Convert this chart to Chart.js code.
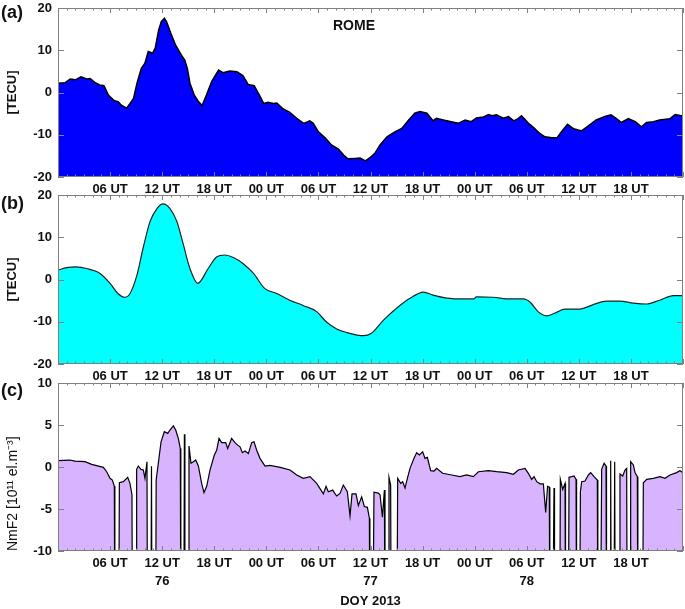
<!DOCTYPE html>
<html>
<head>
<meta charset="utf-8">
<script src="https://cdn.jsdelivr.net/npm/chart.js@4.4.1/dist/chart.umd.min.js"></script>
<style>
  body { margin: 0; background: #fff; }
  #wrap { position: relative; width: 685px; height: 609px; font-family: 'Liberation Sans', Arial, sans-serif; }
  canvas { position: absolute; left: 0; }
  .tag { position: absolute; font-weight: bold; font-size: 18px; line-height: 20px; color: #111; }
  .station { position: absolute; font-weight: bold; font-size: 14px; line-height: 16px; color: #111; }
</style>
</head>
<body>
<div id="wrap">
  <canvas id="chartA" width="685" height="200" style="top:0"></canvas>
  <canvas id="chartB" width="685" height="200" style="top:187px"></canvas>
  <canvas id="chartC" width="685" height="234" style="top:375px"></canvas>
  <div class="tag" style="left:1px;top:2px">(a)</div>
  <div class="tag" style="left:1px;top:193px">(b)</div>
  <div class="tag" style="left:1px;top:380px">(c)</div>
  <div class="station" style="left:333px;top:17px">ROME</div>
</div>
<script>
// hours since DOY 76 00 UT
const utHours = [6, 12, 18, 24, 30, 36, 42, 48, 54, 60, 66];
const utLabels = ['06 UT', '12 UT', '18 UT', '00 UT', '06 UT', '12 UT', '18 UT', '00 UT', '06 UT', '12 UT', '18 UT'];
const dayHours = [12, 36, 54];
const dayLabels = ['76', '77', '78'];

// (a) observed TEC
const aHours = [0, 0.8, 1.4, 2.0, 2.65, 3.3, 3.7, 4.3, 4.8, 5.3, 5.8, 6.4, 6.95, 7.3, 7.9, 8.3, 8.7, 9.1, 9.6, 10.0,
  10.4, 10.9, 11.2, 11.6, 11.9, 12.25, 12.5, 13.0, 13.55, 14.2, 14.6, 14.9, 15.2, 15.7, 16.2, 16.6, 17.1, 17.7, 18.5, 19.0,
  19.8, 20.6, 21.3, 21.9, 22.6, 23.2, 23.7, 24.2, 24.8, 25.2, 25.95, 26.7, 27.5, 28.3, 29.0, 29.4, 30.0, 30.8, 31.5, 32.3,
  32.9, 33.4, 34.2, 34.8, 35.4, 35.9, 36.5, 37.1, 37.9, 38.8, 39.6, 40.4, 41.1, 41.7, 42.5, 43.2, 43.6, 44.4, 45.3, 46.1,
  46.9, 47.6, 48.2, 49.0, 49.6, 50.0, 50.5, 51.3, 51.9, 52.5, 53.0, 53.4, 54.2, 54.8, 55.5, 56.1, 56.9, 57.5, 58.0, 58.7,
  59.4, 60.3, 61.1, 62.0, 63.0, 63.7, 64.3, 64.9, 65.7, 66.5, 67.2, 67.8, 68.6, 69.3, 70.5, 71.1, 71.8, 72];
const aTec = [2.2, 2.3, 3.2, 3.0, 3.7, 3.2, 3.3, 2.3, 1.8, 1.6, -0.6, -1.8, -2.2, -3.0, -3.7, -2.6, -1.4, 2.2, 5.7, 6.9,
  9.7, 9.3, 10.5, 14.8, 16.8, 17.6, 16.8, 14.0, 11.2, 8.9, 7.7, 5.7, 2.2, -0.6, -2.2, -3.1, -0.6, 2.6, 5.3, 4.7,
  5.1, 4.9, 4.0, 1.9, 1.6, -0.6, -2.6, -2.3, -2.6, -2.5, -3.9, -4.7, -6.1, -7.3, -6.7, -7.3, -9.3, -10.8, -12.4, -13.4,
  -14.8, -15.7, -15.6, -15.5, -16.2, -15.5, -14.4, -12.4, -10.5, -9.3, -8.5, -6.5, -4.9, -4.5, -4.9, -6.7, -6.1, -6.5, -6.9, -7.3,
  -6.5, -6.9, -6.0, -5.8, -5.2, -5.5, -5.3, -6.1, -5.7, -6.7, -6.2, -5.5, -7.3, -8.3, -9.7, -10.5, -10.7, -10.7, -9.3, -7.5,
  -8.6, -9.1, -7.9, -6.5, -5.7, -5.3, -6.1, -7.1, -6.2, -6.9, -8.1, -7.1, -6.9, -6.5, -6.2, -5.2, -5.5, -5.6];

// (b) modelled TEC
const bHours = [0, 1, 2.1, 3.3, 4.8, 6.0, 6.9, 7.7, 8.3, 9.1, 9.8, 10.6, 11.4, 12.1, 12.9, 13.7, 14.4, 15.2, 16.1, 17.3,
  18.3, 19.2, 20.2, 21.3, 22.5, 23.8, 25.2, 26.7, 28.3, 29.8, 30.9, 32.1, 33.2, 35.2, 36.1, 37.5, 39.0, 40.6, 42.1, 43.2,
  44.8, 46.7, 47.9, 48.2, 50.1, 52.1, 53.6, 54.4, 55.3, 56.3, 57.2, 58.4, 60.1, 61.6, 63.2, 64.7, 66.3, 67.8, 69.3, 70.9, 72];
const bTec = [2.2, 2.8, 3.0, 2.6, 1.5, -0.9, -3.3, -4.2, -3.3, 1.1, 7.4, 13.7, 16.8, 17.9, 16.8, 13.7, 8.6, 2.6, -0.9, 2.6,
  5.4, 5.8, 5.2, 3.8, 1.5, -2.1, -3.3, -4.9, -6.2, -7.6, -10.0, -11.7, -12.5, -13.3, -12.7, -9.6, -6.8, -4.4, -3.0, -3.7,
  -4.4, -4.6, -4.6, -4.1, -4.2, -4.6, -4.6, -5.4, -7.6, -8.6, -8.0, -7.0, -7.0, -6.0, -5.1, -5.1, -5.6, -5.8, -4.9, -3.8, -3.8];

// (c) NmF2, null = missing sounding
const cHours = [0, 1.38, 1.96, 3.11, 3.88, 5.22, 5.61, 5.99, 6.26, 6.49, 6.55, 7.0, 7.07, 7.53, 8.03, 8.29, 8.52, 8.58, 9.0, 9.06,
  9.25, 9.56, 9.83, 10.02, 10.25, 10.31, 10.7, 10.77, 10.83, 11.25, 11.31, 11.87, 12.25, 12.64, 12.9, 13.29, 13.56, 13.86, 14.09, 14.15,
  14.5, 14.56, 14.62, 15.0, 15.09, 15.32, 15.59, 15.86, 16.17, 16.55, 16.82, 17.13, 17.51, 18.01, 18.28, 18.55, 18.86, 19.32, 19.55, 20.0,
  20.39, 20.7, 20.97, 21.24, 21.54, 21.93, 22.31, 22.58, 22.89, 23.27, 23.85, 24.42, 25.6, 26.73, 27.5, 28.26, 29.03, 29.8, 30.57, 30.88,
  31.14, 31.64, 32.1, 32.49, 32.87, 33.33, 33.64, 33.87, 34.33, 34.6, 34.98, 35.29, 35.64, 35.87, 35.93, 36.28, 36.4, 36.9, 37.1, 37.37,
  37.6, 37.67, 38.05, 38.13, 38.32, 38.38, 39.05, 39.13, 39.48, 39.71, 39.98, 40.25, 40.55, 41.01, 41.32, 41.63, 42.01, 42.28, 42.55, 42.93,
  43.32, 43.62, 44.31, 45.35, 46.3, 47.08, 47.85, 48.43, 49.58, 50.54, 51.69, 52.46, 53.03, 53.8, 54.18, 54.57, 54.84, 55.15, 55.53, 55.91,
  56.18, 56.4, 56.6, 56.66, 57.0, 57.14, 57.2, 57.8, 57.87, 58.14, 58.41, 58.47, 58.8, 58.87, 59.18, 59.45, 59.68, 59.74, 60.1, 60.18,
  60.33, 60.71, 61.1, 61.37, 61.75, 62.13, 62.19, 62.5, 62.63, 62.91, 63.13, 63.19, 63.6, 63.67, 63.73, 64.05, 64.13, 64.19, 64.65, 64.74,
  65.05, 65.32, 65.51, 65.57, 65.92, 65.97, 66.28, 66.47, 66.74, 66.8, 67.35, 67.43, 67.82, 68.58, 69.35, 69.93, 70.5, 71.27, 71.65, 72];
const cNmF2 = [0.75, 0.83, 0.7, 0.63, 0.32, -0.04, -0.56, -1.35, -1.55, -2.3, null, null, -1.87, -1.75, -1.23, -1.95, -3.3, null, null, -0.28,
  0.12, -0.28, -0.36, -1.35, 0.63, null, null, 0.08, null, null, -1.55, 3.0, 4.2, 4.0, 4.4, 4.9, 4.4, 3.4, 2.2, null,
  null, 3.9, null, null, 2.5, 0.44, 0.63, 0.83, 0.12, -1.95, -3.05, -2.3, -0.36, 1.43, 2.0, 3.4, 2.9, 2.9, 2.2, 3.4,
  2.9, 2.6, 2.4, 1.7, 1.9, 1.6, 2.9, 3.0, 2.0, 1.03, 0.12, 0.2, -0.04, -0.36, -0.95, -1.35, -1.15, -1.95, -3.2, -2.3,
  -2.95, -2.75, -3.45, -3.15, -2.15, -2.95, -5.8, -3.2, -3.2, -4.6, -3.55, -4.7, -4.8, -6.1, null, null, -3.0, -3.1, -3.3, -5.98,
  -2.75, null, null, -1.23, -2.15, null, null, -1.35, -1.95, -1.75, -2.5, -1.35, -0.16, 1.03, 1.7, 1.43, 1.8, 1.03, 1.15, -0.44,
  -0.48, -0.16, -0.75, -0.95, -1.15, -0.95, -1.15, -0.56, -0.44, -0.56, -0.67, -0.87, -0.36, -0.16, -0.75, -1.47, -1.15, -1.75, -2.0, -2.0,
  -5.4, -2.3, -2.4, null, null, -2.5, null, null, -1.47, -2.67, -1.95, null, null, -1.23, -1.15, -1.07, -1.47, null, null, -2.95,
  -1.75, -1.67, -0.95, -0.67, -1.15, -1.55, null, null, -0.28, 0.44, 0.12, null, null, 0.75, null, null, 0.63, null, null, -0.83,
  -1.07, -0.36, -0.16, null, null, 0.63, 0.24, -0.67, -1.15, null, null, -1.87, -1.47, -1.35, -1.15, -1.35, -0.95, -0.67, -0.44, -0.67];

const fontFamily = "'Liberation Sans', Arial, sans-serif";

// closed frame with inward ticks, like the original plotting tool
const frameTicks = {
    id: 'frameTicks',
    afterDatasetsDraw(chart) {
        const ctx = chart.ctx;
        const area = chart.chartArea;
        const x = chart.scales.x;
        const y = chart.scales.y;
        ctx.save();
        ctx.strokeStyle = '#808080';
        ctx.lineWidth = 1;
        ctx.beginPath();
        for (let h = 0; h <= 72; h++) {
            const px = Math.round(x.getPixelForValue(h)) + 0.5;
            const len = h % 6 === 0 ? 5 : 2.5;
            ctx.moveTo(px, area.top);
            ctx.lineTo(px, area.top + len);
            ctx.moveTo(px, area.bottom);
            ctx.lineTo(px, area.bottom - len);
        }
        y.ticks.forEach(t => {
            const py = Math.round(y.getPixelForValue(t.value)) + 0.5;
            ctx.moveTo(area.left, py);
            ctx.lineTo(area.left + 6, py);
            ctx.moveTo(area.right, py);
            ctx.lineTo(area.right - 6, py);
        });
        ctx.stroke();
        ctx.strokeRect(Math.round(area.left) + 0.5, Math.round(area.top) + 0.5,
            Math.round(area.right - area.left) - 1, Math.round(area.bottom - area.top) - 1);
        ctx.restore();
    }
};

function points(hours, values, floor) {
    return hours.map((h, i) => ({ x: h, y: values[i] === null ? floor : values[i] }));
}

function createPanel(id, cfg) {
    return new Chart(document.getElementById(id), {
        type: 'line',
        data: {
            datasets: [{
                data: cfg.data,
                borderColor: cfg.line,
                borderWidth: cfg.lineWidth,
                backgroundColor: cfg.fill,
                fill: 'start',
                pointRadius: 0,
                tension: 0,
                cubicInterpolationMode: cfg.smooth ? 'monotone' : 'default'
            }]
        },
        options: {
            responsive: false,
            animation: false,
            layout: { padding: { top: 8, right: 2, left: 0, bottom: 0 } },
            plugins: { legend: { display: false }, tooltip: { enabled: false } },
            scales: {
                x: {
                    type: 'linear',
                    min: 0,
                    max: 72,
                    grid: { display: false, drawTicks: false },
                    border: { display: false },
                    ticks: {
                        stepSize: 6,
                        autoSkip: false,
                        maxRotation: 0,
                        padding: 3,
                        color: '#111',
                        font: { family: fontFamily, size: 13, weight: 'bold', lineHeight: 1.4 },
                        callback: (v) => {
                            const i = utHours.indexOf(v);
                            const ut = i < 0 ? '' : utLabels[i];
                            if (!cfg.days) return ut;
                            const d = dayHours.indexOf(v);
                            return [ut, d < 0 ? '' : dayLabels[d]];
                        }
                    },
                    title: cfg.xTitle ? {
                        display: true,
                        text: cfg.xTitle,
                        color: '#111',
                        padding: { top: 0, bottom: 0 },
                        font: { family: fontFamily, size: 13, weight: 'bold' }
                    } : { display: false },
                    afterFit: (scale) => {
                        scale.height = cfg.xHeight;
                        scale.paddingLeft = 0;
                        scale.paddingRight = 0;
                    }
                },
                y: {
                    min: cfg.yMin,
                    max: cfg.yMax,
                    grid: { display: false, drawTicks: false },
                    border: { display: false },
                    ticks: {
                        stepSize: cfg.yStep,
                        padding: 6,
                        color: '#111',
                        font: { family: fontFamily, size: 13, weight: 'bold' }
                    },
                    title: {
                        display: true,
                        text: cfg.yTitle,
                        align: cfg.yTitleAlign || 'center',
                        color: '#111',
                        padding: { top: 5, bottom: 0 },
                        font: { family: fontFamily, size: cfg.yTitleSize || 13, weight: cfg.yTitleWeight || 'bold' }
                    },
                    afterFit: (scale) => {
                        scale.width = 58;
                        scale.paddingTop = 0;
                        scale.paddingBottom = 0;
                    }
                }
            }
        },
        plugins: [frameTicks]
    });
}

createPanel('chartA', {
    data: points(aHours, aTec, -40),
    line: '#000', lineWidth: 1.5, fill: '#0000ff',
    yMin: -20, yMax: 20, yStep: 10, yTitle: '[TECU]', xHeight: 23
});

createPanel('chartB', {
    data: points(bHours, bTec, -40),
    line: '#222', lineWidth: 1.2, fill: '#00ffff', smooth: true,
    yMin: -20, yMax: 20, yStep: 10, yTitle: '[TECU]', xHeight: 23
});

createPanel('chartC', {
    data: points(cHours, cNmF2, -20),
    line: '#000', lineWidth: 1.2, fill: '#d8b4fe',
    yMin: -10, yMax: 10, yStep: 5, yTitle: 'NmF2 [10¹¹ el.m⁻³]', yTitleAlign: 'start',
    yTitleWeight: 'normal', yTitleSize: 14,
    days: true, xTitle: 'DOY 2013', xHeight: 58
});
</script>
</body>
</html>
